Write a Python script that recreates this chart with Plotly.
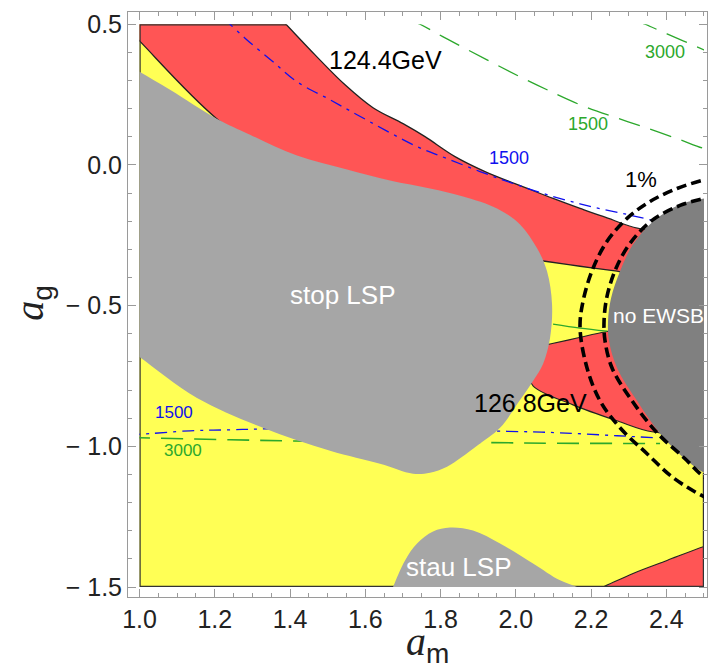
import plotly.graph_objects as go

# ---------------- axis ticks ----------------
x_tick_vals = [1.0, 1.2, 1.4, 1.6, 1.8, 2.0, 2.2, 2.4]
x_tick_text = ["1.0", "1.2", "1.4", "1.6", "1.8", "2.0", "2.2", "2.4"]
y_tick_vals = [0.5, 0.0, -0.5, -1.0, -1.5]
y_tick_text = ["0.5", "0.0", "\u2212 0.5", "\u2212 1.0", "\u2212 1.5"]

# scanned parameter window and the framed (padded) window
AM_RANGE = [1.0, 2.5]
AG_RANGE = [-1.5, 0.5]
AM_FRAME = [0.9694, 2.5081]
AG_FRAME = [-1.5354, 0.5436]

# ---------------- Higgs mass = 124.4 GeV boundary ----------------
# (points outside the window only continue the curves past the clipped edge)
mh124_am = [1.3893, 1.4664, 1.5461, 1.6205, 1.7003, 1.7587, 1.8384, 1.9182, 2.0378, 2.0989, 2.1706, 2.2318, 2.3487]
mh124_ag = [0.5, 0.3913, 0.2849, 0.2034, 0.1467, 0.1006, 0.0298, -0.0234, -0.0872, -0.1191, -0.1545, -0.1829, -0.2289]

# upper-left yellow wedge boundary
wedge_am = [1.0, 1.2052]
wedge_ag = [0.4408, 0.1644]

# lower edge of the upper red band
band1_low_am = [2.0378, 2.0776, 2.1706, 2.2690, 2.3036]
band1_low_ag = [-0.3352, -0.3423, -0.3600, -0.3777, -0.3848]

# middle red band (around 126.8 GeV)
band2_top_am = [2.0909, 2.1627, 2.2371]
band2_top_ag = [-0.6364, -0.6152, -0.5937]
band2_low_am = [2.0457, 2.1520, 2.2690, 2.3620]
band2_low_ag = [-0.7850, -0.8526, -0.9093, -0.9483]

# lower-right red corner
band3_am = [2.18, 2.2318, 2.3115, 2.4018, 2.5, 2.56]
band3_ag = [-1.53, -1.5, -1.4515, -1.4054, -1.3558, -1.33]

# stop LSP region
stop_am = [0.95, 1.0, 1.0811, 1.2052, 1.2937, 1.4186, 1.5514, 1.6657, 1.7720, 1.8597, 1.9501, 2.0112,
           2.0564, 2.0829, 2.0962, 2.0909, 2.0723, 2.0457, 2.0059, 1.9580, 1.8969, 1.8172,
           1.7720, 1.7268, 1.6391, 1.5063, 1.3282, 1.1528, 1.0, 0.95]
stop_ag = [0.37, 0.3310, 0.2672, 0.1644, 0.1077, 0.0333, -0.0163, -0.0553, -0.0836, -0.1120, -0.1545, -0.2112,
           -0.2962, -0.3777, -0.4947, -0.6152, -0.7073, -0.7676, -0.8455, -0.9341, -0.9979, -1.0723,
           -1.0936, -1.0971, -1.0617, -1.0156, -0.9341, -0.8278, -0.6825, -0.635]

# stau LSP region
stau_am = [1.665, 1.6737, 1.7056, 1.7375, 1.7800, 1.8252, 1.8863, 1.9580, 2.0457, 2.1175, 2.1627, 2.18]
stau_ag = [-1.53, -1.5, -1.4054, -1.3452, -1.3026, -1.2884, -1.2991, -1.3452, -1.4160, -1.4763, -1.5, -1.51]

# no EWSB region
noewsb_am = [2.55, 2.5, 2.4364, 2.3646, 2.3115, 2.2769, 2.2530, 2.2450, 2.2477, 2.2690, 2.3221, 2.3832, 2.4550, 2.5, 2.55]
noewsb_ag = [-0.105, -0.1191, -0.1403, -0.2006, -0.2821, -0.3777, -0.4734, -0.5549, -0.6258, -0.7215, -0.8384, -0.9554, -1.0511, -1.0936, -1.12]

# 1% fine-tuning contours
tune_in_am = [2.53, 2.5, 2.4364, 2.3620, 2.3036, 2.2663, 2.2424, 2.2344, 2.2371, 2.2557, 2.3088, 2.3753, 2.4497, 2.5, 2.53]
tune_in_ag = [-0.11, -0.1191, -0.1439, -0.1970, -0.2785, -0.3671, -0.4663, -0.5549, -0.6258, -0.7215, -0.8384, -0.9518, -1.0440, -1.1082, -1.125]
tune_out_am = [2.53, 2.4948, 2.4284, 2.3567, 2.2955, 2.2424, 2.2052, 2.1786, 2.1706, 2.1892, 2.2238, 2.2769, 2.3487, 2.4178, 2.5, 2.53]
tune_out_ag = [-0.045, -0.0553, -0.0836, -0.1297, -0.1899, -0.2714, -0.3671, -0.4841, -0.5797, -0.7215, -0.8384, -0.9341, -1.0262, -1.1113, -1.1790, -1.195]

# stop mass contours (blue, 1500 GeV)
stop1500_up_am = [1.225, 1.2405, 1.2857, 1.3548, 1.4186, 1.5063, 1.5780, 1.7375, 1.8172, 1.9049, 1.9926, 2.0989, 2.1972, 2.2955, 2.3753]
stop1500_up_ag = [0.52, 0.5, 0.4444, 0.3664, 0.2955, 0.2317, 0.1786, 0.0652, 0.0227, -0.0234, -0.0659, -0.1120, -0.1474, -0.1758, -0.2006]
stop1500_lo_am = [0.97, 1.0, 1.1342, 1.2405, 1.3548, 1.6923, 1.9766, 2.1175, 2.2690, 2.3700]
stop1500_lo_ag = [-0.958, -0.9571, -0.9447, -0.9412, -0.9376, -0.9394, -0.9465, -0.9518, -0.9624, -0.9695]

# gluino mass contours (green)
glu1500_am = [1.72, 1.7454, 1.8172, 1.9235, 2.0112, 2.0829, 2.1706, 2.2583, 2.3381, 2.4284, 2.5, 2.53]
glu1500_ag = [0.515, 0.5, 0.4479, 0.3735, 0.3133, 0.2672, 0.2140, 0.1715, 0.1361, 0.0935, 0.0581, 0.047]
glu3000_up_am = [2.32, 2.3434, 2.4018, 2.5, 2.53]
glu3000_up_ag = [0.512, 0.5, 0.4656, 0.4089, 0.39]
glu3000_lo_am = [0.97, 1.0, 1.2405, 1.4531, 1.8969, 2.0989, 2.3832]
glu3000_lo_ag = [-0.969, -0.9695, -0.9766, -0.9819, -0.9862, -0.9890, -0.9897]
glu3000_mid_am = [2.0989, 2.1706, 2.2424]
glu3000_mid_ag = [-0.5656, -0.5797, -0.5904]

YELLOW = "#FFFF55"
RED = "#FF5555"
GRAY = "#A6A6A6"
DARK = "#808080"
EDGE = "#222222"
BLUE = "#1010EE"
GREEN = "#2CA82C"

fig = go.Figure()


def fill(xs, ys, color, edge=None, width=0.0):
    fig.add_trace(go.Scatter(x=xs, y=ys, mode="lines", fill="toself", fillcolor=color,
                             line=dict(width=width, color=edge or color, shape="spline", smoothing=1.0),
                             hoverinfo="skip", showlegend=False))


def curve(xs, ys, color, width, dash="solid", shape="spline"):
    fig.add_trace(go.Scatter(x=xs, y=ys, mode="lines",
                             line=dict(color=color, width=width, dash=dash, shape=shape, smoothing=1.0),
                             hoverinfo="skip", showlegend=False))


# allowed (yellow) region: everything below the 124.4 GeV line
fill([0.85, 0.85, 1.30, 1.35] + mh124_am + [2.42, 2.7, 2.7],
     [-1.65, 0.65, 0.65, 0.555] + mh124_ag + [-0.19, -0.25, -1.65], YELLOW)

# upper red band, outlined by the 124.4 GeV line, its lower edge and the wedge edge
fill([0.85, 1.30, 1.35] + mh124_am + [2.42, 2.42] + band1_low_am[::-1] + [1.8252, 1.4265]
     + wedge_am[::-1] + [0.95],
     [0.65, 0.65, 0.555] + mh124_ag + [-0.19, -0.30] + band1_low_ag[::-1] + [-0.2360, -0.0411]
     + wedge_ag[::-1] + [0.51],
     RED, EDGE, 1.3)

# middle red band
fill([2.0643] + band2_top_am + [2.2902, 2.4098] + band2_low_am[::-1] + [2.0325],
     [-0.6435] + band2_top_ag + [-0.5868, -0.9447] + band2_low_ag[::-1] + [-0.7321],
     RED, EDGE, 1.1)

# lower-right red corner
fill(band3_am + [2.7], band3_ag + [-1.65], RED, EDGE, 1.1)

# outline of the scanned window
curve([mh124_am[0], 1.0, 1.0, 2.5, 2.5], [0.5, 0.5, -1.5, -1.5, -1.0936], "#333333", 2.4, shape="linear")

# mass contours
curve(stop1500_up_am, stop1500_up_ag, BLUE, 1.3, "12px,6px,3px,6px")
curve(stop1500_lo_am, stop1500_lo_ag, BLUE, 1.3, "12px,6px,3px,6px")
curve(glu1500_am, glu1500_ag, GREEN, 1.3, "22px,11px")
curve(glu3000_up_am, glu3000_up_ag, GREEN, 1.3, "22px,11px")
curve(glu3000_lo_am, glu3000_lo_ag, GREEN, 1.6, "22px,11px")
curve(glu3000_mid_am, glu3000_mid_ag, GREEN, 1.3)

# excluded regions
fill(stop_am, stop_ag, GRAY)
fill(stau_am, stau_ag, GRAY)
fill(noewsb_am, noewsb_ag, DARK)

# fine-tuning contours
curve(tune_in_am, tune_in_ag, "black", 3.6, "10px,5px")
curve(tune_out_am, tune_out_ag, "black", 3.6, "10px,5px")

# empty trace carrying the outer frame axes
fig.add_trace(go.Scatter(x=[None], y=[None], xaxis="x2", yaxis="y2", mode="lines",
                         hoverinfo="skip", showlegend=False))

SANS = "Liberation Sans, Arial, sans-serif"
labels = [
    (1.6524, 0.3735, "124.4GeV", 25, "black"),
    (2.0378, -0.8455, "126.8GeV", 25, "black"),
    (2.3327, -0.0517, "1%", 22, "black"),
    (1.5408, -0.4628, "stop LSP", 26, "white"),
    (2.3779, -0.5337, "no EWSB", 21, "white"),
    (1.8491, -1.4302, "stau LSP", 26, "white"),
    (1.9820, 0.0262, "1500", 18, BLUE),
    (2.1919, 0.1467, "1500", 18, GREEN),
    (2.3965, 0.4018, "3000", 18, GREEN),
    (1.0917, -0.8810, "1500", 17, BLUE),
    (1.1156, -1.0156, "3000", 17, GREEN),
]
for lx, ly, txt, size, col in labels:
    fig.add_annotation(x=lx, y=ly, xref="x", yref="y", text=txt, showarrow=False,
                       font=dict(family=SANS, size=size, color=col))

# axis titles
fig.add_annotation(x=0.518, y=-0.080, xref="paper", yref="paper", showarrow=False,
                   text='<i>a</i><sub><span style="font-family:Liberation Sans">m</span></sub>',
                   font=dict(family="Liberation Serif, serif", size=40, color="#222"),
                   xanchor="center", yanchor="middle")
fig.add_annotation(x=-0.166, y=0.503, xref="paper", yref="paper", showarrow=False, textangle=-90,
                   text='<i>a</i><sub><span style="font-family:Liberation Sans">g</span></sub>',
                   font=dict(family="Liberation Serif, serif", size=40, color="#222"),
                   xanchor="center", yanchor="middle")

frame = dict(showline=True, linecolor="#9A9A9A", linewidth=1, mirror="ticks", ticks="inside",
             ticklen=8, tickwidth=1, tickcolor="#9A9A9A", showgrid=False, zeroline=False,
             tickfont=dict(family=SANS, size=25, color="#222"))

# inner data window inside the padded frame (paper fractions of the plot area)
PLOT_W, PLOT_H = 579.0, 587.0
x_dom = [(139.5 - 128) / PLOT_W, (704 - 128) / PLOT_W]
y_dom = [(597 - 587) / PLOT_H, (597 - 22.3) / PLOT_H]

fig.update_layout(
    width=723, height=671,
    margin=dict(l=128, r=16, t=10, b=74),
    paper_bgcolor="white", plot_bgcolor="rgba(0,0,0,0)",
    xaxis=dict(domain=x_dom, range=AM_RANGE, visible=False, anchor="y", fixedrange=True),
    yaxis=dict(domain=y_dom, range=AG_RANGE, visible=False, anchor="x", fixedrange=True),
    xaxis2=dict(domain=[0, 1], range=AM_FRAME, anchor="y2", tickmode="array",
                tickvals=x_tick_vals, ticktext=x_tick_text,
                minor=dict(tickmode="linear", tick0=1.0, dtick=0.05, ticks="inside", ticklen=4,
                           tickcolor="#9A9A9A", showgrid=False),
                **frame),
    yaxis2=dict(domain=[0, 1], range=AG_FRAME, anchor="x2", tickmode="array",
                tickvals=y_tick_vals, ticktext=y_tick_text,
                minor=dict(tickmode="linear", tick0=0.0, dtick=0.1, ticks="inside", ticklen=4,
                           tickcolor="#9A9A9A", showgrid=False),
                **frame),
)

fig.write_html("out.html")
